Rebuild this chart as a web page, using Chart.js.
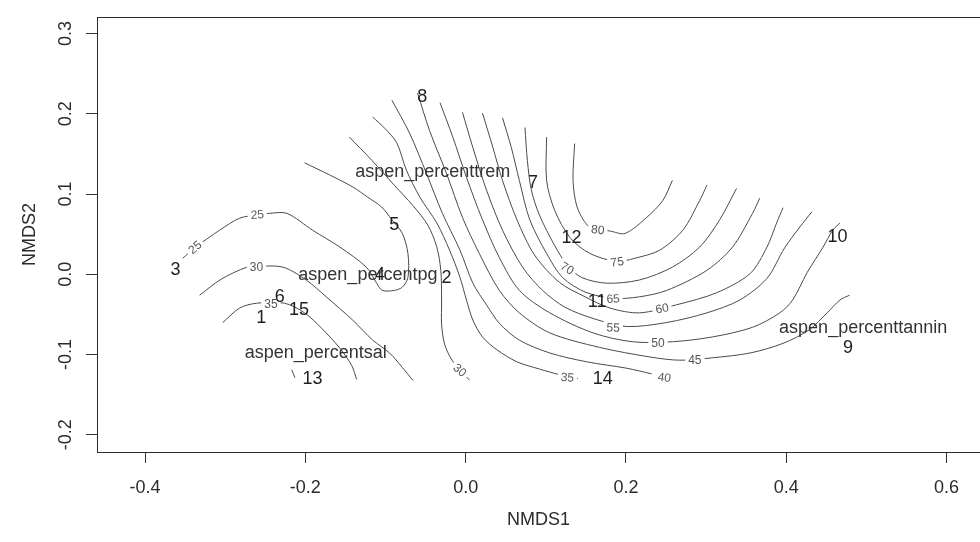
<!DOCTYPE html>
<html>
<head>
<meta charset="utf-8">
<script src="https://cdn.jsdelivr.net/npm/chart.js@4.4.1/dist/chart.umd.min.js"></script>
<style>
  html, body { margin: 0; padding: 0; background: #fff; }
  #wrap { width: 980px; height: 542px; }
</style>
</head>
<body>
<div id="wrap"><canvas id="nmds" width="980" height="542"></canvas></div>
<script>
// --- axis ticks ---
const xTicks = [-0.4, -0.2, 0.0, 0.2, 0.4, 0.6];
const yTicks = [-0.2, -0.1, 0.0, 0.1, 0.2, 0.3];

// --- contour lines of the fitted surface, [NMDS1, NMDS2] ---
const c25 = [[-0.353,0.020],[-0.338,0.033],[-0.307,0.055],[-0.282,0.070],[-0.260,0.074],[-0.245,0.076],[-0.223,0.076],[-0.191,0.055],[-0.157,0.034],[-0.124,0.009],[-0.111,-0.011],[-0.104,-0.020],[-0.089,-0.020],[-0.079,-0.016],[-0.072,-0.004],[-0.072,0.026],[-0.079,0.051],[-0.092,0.068],[-0.105,0.084],[-0.122,0.096],[-0.141,0.109],[-0.170,0.124],[-0.201,0.139]];
const c30a = [[-0.332,-0.026],[-0.305,-0.006],[-0.273,0.009],[-0.261,0.010],[-0.228,0.009],[-0.199,-0.007],[-0.174,-0.028],[-0.141,-0.057],[-0.116,-0.082],[-0.095,-0.098],[-0.079,-0.116],[-0.066,-0.132]];
const c35a = [[-0.303,-0.060],[-0.282,-0.042],[-0.261,-0.036],[-0.226,-0.036],[-0.201,-0.048],[-0.180,-0.067],[-0.157,-0.092],[-0.142,-0.114],[-0.136,-0.131]];
const c40a = [[-0.217,-0.119],[-0.213,-0.129]];
const c30b = [[-0.145,0.171],[-0.117,0.142],[-0.089,0.111],[-0.066,0.086],[-0.047,0.061],[-0.036,0.034],[-0.031,0.005],[-0.030,-0.032],[-0.030,-0.063],[-0.026,-0.088],[-0.017,-0.107],[-0.005,-0.122],[0.005,-0.132]];
const c35b = [[-0.116,0.196],[-0.101,0.182],[-0.086,0.164],[-0.074,0.130],[-0.057,0.096],[-0.036,0.064],[-0.020,0.030],[-0.007,-0.004],[0.001,-0.032],[0.009,-0.057],[0.021,-0.078],[0.039,-0.094],[0.064,-0.109],[0.092,-0.118],[0.117,-0.125],[0.140,-0.130]];
const c40 = [[-0.092,0.217],[-0.070,0.176],[-0.049,0.126],[-0.029,0.076],[-0.007,0.030],[0.009,-0.011],[0.026,-0.038],[0.042,-0.061],[0.067,-0.082],[0.105,-0.098],[0.151,-0.109],[0.201,-0.117],[0.232,-0.124]];
const c45 = [[-0.060,0.226],[-0.045,0.179],[-0.024,0.126],[-0.004,0.071],[0.017,0.026],[0.042,-0.020],[0.067,-0.048],[0.105,-0.073],[0.167,-0.091],[0.230,-0.103],[0.267,-0.107],[0.308,-0.104],[0.355,-0.098],[0.396,-0.086],[0.429,-0.069],[0.451,-0.048],[0.467,-0.032],[0.479,-0.026]];
const c50 = [[-0.032,0.214],[-0.016,0.171],[0.001,0.121],[0.021,0.068],[0.042,0.021],[0.067,-0.020],[0.105,-0.048],[0.159,-0.073],[0.208,-0.084],[0.258,-0.084],[0.308,-0.078],[0.358,-0.066],[0.392,-0.048],[0.408,-0.032],[0.426,0.002],[0.446,0.034],[0.458,0.055],[0.467,0.064]];
const c55 = [[-0.004,0.202],[0.009,0.158],[0.026,0.105],[0.046,0.055],[0.071,0.009],[0.096,-0.020],[0.124,-0.041],[0.159,-0.055],[0.201,-0.065],[0.251,-0.060],[0.301,-0.048],[0.342,-0.032],[0.376,-0.005],[0.398,0.033],[0.417,0.059],[0.432,0.078]];
const c60 = [[0.021,0.201],[0.034,0.158],[0.046,0.117],[0.064,0.068],[0.086,0.024],[0.117,-0.010],[0.149,-0.028],[0.180,-0.042],[0.217,-0.048],[0.263,-0.038],[0.313,-0.023],[0.355,0.001],[0.376,0.034],[0.388,0.064],[0.396,0.083]];
const c65 = [[0.046,0.195],[0.057,0.158],[0.067,0.117],[0.080,0.068],[0.101,0.026],[0.121,-0.004],[0.149,-0.022],[0.184,-0.030],[0.217,-0.028],[0.251,-0.020],[0.301,0.005],[0.333,0.034],[0.358,0.076],[0.367,0.095]];
const c70 = [[0.074,0.183],[0.077,0.142],[0.082,0.105],[0.092,0.074],[0.111,0.036],[0.127,0.011],[0.145,-0.004],[0.176,-0.011],[0.217,-0.007],[0.258,0.009],[0.292,0.034],[0.317,0.068],[0.338,0.107]];
const c75 = [[0.101,0.171],[0.101,0.117],[0.111,0.080],[0.130,0.046],[0.155,0.026],[0.189,0.016],[0.211,0.020],[0.242,0.030],[0.271,0.055],[0.292,0.092],[0.301,0.111]];
const c80 = [[0.136,0.163],[0.134,0.117],[0.139,0.084],[0.152,0.061],[0.165,0.056],[0.180,0.054],[0.199,0.051],[0.226,0.071],[0.246,0.092],[0.258,0.117]];

// --- contour level labels ---
const contourLabelText  = ['25', '25', '30', '35', '30', '35', '40', '45', '50', '55', '60', '65', '70', '75', '80'];
const contourLabelX     = [-0.260, -0.338, -0.261, -0.243, -0.007, 0.127, 0.248, 0.286, 0.240, 0.184, 0.245, 0.184, 0.127, 0.189, 0.165];
const contourLabelY     = [0.075, 0.034, 0.010, -0.036, -0.119, -0.128, -0.128, -0.106, -0.085, -0.066, -0.042, -0.030, 0.008, 0.016, 0.056];
const contourLabelAngle = [-4, -40, 0, 0, 40, 5, 8, 0, 0, 3, -10, -3, 30, -8, 5];

// --- site scores ---
const siteNames = ['1', '2', '3', '4', '5', '6', '7', '8', '9', '10', '11', '12', '13', '14', '15'];
const siteX = [-0.255, -0.024, -0.362, -0.107, -0.089, -0.232, 0.084, -0.054, 0.477, 0.464, 0.164, 0.132, -0.191, 0.171, -0.208];
const siteY = [-0.055, -0.005, 0.005, -0.001, 0.061, -0.028, 0.114, 0.221, -0.092, 0.046, -0.035, 0.045, -0.131, -0.130, -0.044];

// --- species (fitted variables) ---
const speciesNames = ['aspen_percenttrem', 'aspen_percentpg', 'aspen_percentsal', 'aspen_percenttannin'];
const speciesX = [-0.041, -0.122, -0.187, 0.496];
const speciesY = [0.127, -0.001, -0.098, -0.067];

const contours = [c25, c30a, c35a, c40a, c30b, c35b, c40, c45, c50, c55, c60, c65, c70, c75, c80];

const FONT = '"Liberation Sans", Arial, sans-serif';

// Texts, box and rotated y tick labels (R style)
const rPlotExtras = {
    id: 'rPlotExtras',
    afterDatasetsDraw(chart) {
        const { ctx, chartArea: a, scales: { x, y } } = chart;
        ctx.save();
        ctx.beginPath();
        ctx.rect(a.left, a.top, a.right - a.left, a.bottom - a.top);
        ctx.clip();
        ctx.textAlign = 'center';
        ctx.textBaseline = 'middle';

        // contour labels, line broken under them
        ctx.font = '12px ' + FONT;
        contourLabelText.forEach((t, i) => {
            ctx.save();
            ctx.translate(x.getPixelForValue(contourLabelX[i]), y.getPixelForValue(contourLabelY[i]));
            ctx.rotate(contourLabelAngle[i] * Math.PI / 180);
            const w = ctx.measureText(t).width;
            ctx.fillStyle = '#fff';
            ctx.fillRect(-w / 2 - 3, -6, w + 6, 12);
            ctx.fillStyle = '#555';
            ctx.fillText(t, 0, 1);
            ctx.restore();
        });

        ctx.font = '18px ' + FONT;
        ctx.fillStyle = '#333';
        speciesNames.forEach((t, i) => {
            ctx.fillText(t, x.getPixelForValue(speciesX[i]), y.getPixelForValue(speciesY[i]));
        });
        ctx.fillStyle = '#1e1e1e';
        siteNames.forEach((t, i) => {
            ctx.fillText(t, x.getPixelForValue(siteX[i]), y.getPixelForValue(siteY[i]));
        });
        ctx.restore();

        // plot box
        ctx.save();
        ctx.strokeStyle = '#2a2a2a';
        ctx.lineWidth = 1;
        ctx.strokeRect(a.left + 0.5, a.top + 0.5, a.right - a.left, a.bottom - a.top);

        // y tick labels, rotated like R's las = 0
        ctx.font = '18px ' + FONT;
        ctx.fillStyle = '#2b2b2b';
        ctx.textAlign = 'center';
        ctx.textBaseline = 'middle';
        yTicks.forEach(v => {
            ctx.save();
            ctx.translate(66, y.getPixelForValue(v));
            ctx.rotate(-Math.PI / 2);
            ctx.fillText(v.toFixed(1), 0, 0);
            ctx.restore();
        });
        ctx.restore();
    }
};

new Chart(document.getElementById('nmds'), {
    type: 'scatter',
    data: {
        datasets: contours.map(pts => ({
            data: pts.map(p => ({ x: p[0], y: p[1] })),
            showLine: true,
            pointRadius: 0,
            borderColor: '#4a4a4a',
            borderWidth: 1,
            tension: 0.3,
            fill: false
        }))
    },
    options: {
        responsive: false,
        animation: false,
        devicePixelRatio: 1,
        layout: { padding: { top: 17, right: 0, left: 0, bottom: 0 } },
        plugins: { legend: { display: false }, tooltip: { enabled: false } },
        scales: {
            x: {
                type: 'linear',
                min: -0.46,
                max: 0.6418,
                afterFit(s) { s.height = 90; },
                afterBuildTicks(s) { s.ticks = xTicks.map(v => ({ value: v })); },
                grid: { drawOnChartArea: false, drawTicks: true, tickLength: 11, color: '#333' },
                border: { display: false },
                ticks: {
                    padding: 14,
                    color: '#2b2b2b',
                    font: { family: FONT, size: 18 },
                    maxRotation: 0,
                    autoSkip: false,
                    callback: v => Number(v).toFixed(1)
                },
                title: { display: true, text: 'NMDS1', color: '#2b2b2b', font: { family: FONT, size: 18 }, padding: { top: 0, bottom: 11 } }
            },
            y: {
                type: 'linear',
                min: -0.2214,
                max: 0.3207,
                afterFit(s) { s.width = 97; },
                afterBuildTicks(s) { s.ticks = yTicks.map(v => ({ value: v })); },
                grid: { drawOnChartArea: false, drawTicks: true, tickLength: 11, color: '#333' },
                border: { display: false },
                ticks: { display: false },
                title: { display: true, text: 'NMDS2', color: '#2b2b2b', font: { family: FONT, size: 18 }, padding: { top: 19, bottom: 0 } }
            }
        }
    },
    plugins: [rPlotExtras]
});
</script>
</body>
</html>
